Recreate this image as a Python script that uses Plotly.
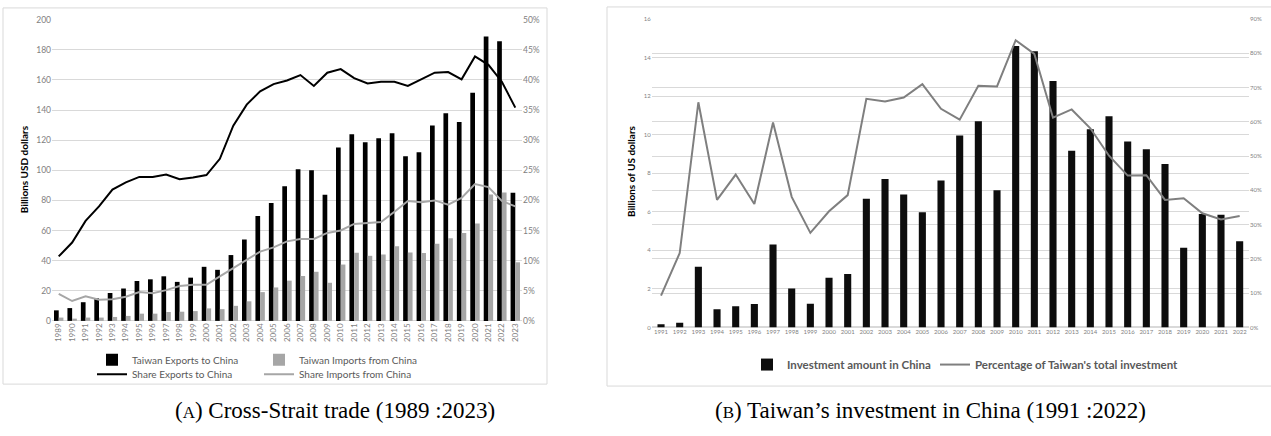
import plotly.graph_objects as go

W, H = 1271, 436

# ---------------- Data: (A) Cross-Strait trade ----------------
years_a = [str(y) for y in range(1989, 2024)]
exports = [7.0, 8.5, 12.4, 15.0, 18.5, 21.5, 26.5, 27.6, 29.6, 25.9, 28.7, 35.9, 33.9, 43.7, 54.1,
           69.6, 78.3, 89.4, 100.6, 100.0, 83.8, 115.1, 124.0, 118.6, 121.2, 124.6, 109.3, 111.9,
           129.8, 137.8, 132.0, 151.4, 188.8, 185.7, 85.0]
imports = [2.2, 1.5, 2.2, 2.2, 2.6, 3.3, 4.8, 4.8, 5.9, 6.1, 6.5, 8.3, 7.8, 10.0, 13.0, 19.1, 22.2,
           26.7, 29.8, 32.6, 25.3, 37.4, 45.2, 43.2, 44.1, 49.5, 45.4, 45.0, 51.2, 54.9, 58.4, 64.6,
           83.9, 85.2, 38.9]
share_exp = [10.7, 13.0, 16.6, 19.0, 21.8, 23.0, 23.9, 23.9, 24.3, 23.5, 23.8, 24.2, 26.9, 32.4, 35.9,
             38.1, 39.3, 39.9, 40.8, 39.0, 41.2, 41.8, 40.3, 39.4, 39.7, 39.7, 39.0, 40.1, 41.2, 41.3,
             40.1, 43.9, 42.5, 39.7, 35.4]
share_imp = [4.5, 3.3, 4.1, 3.5, 3.6, 4.0, 4.8, 4.6, 5.1, 5.8, 6.0, 6.0, 7.4, 8.8, 10.2, 11.5, 12.2,
             13.2, 13.6, 13.6, 14.6, 15.0, 16.1, 16.2, 16.4, 18.1, 19.9, 19.7, 20.0, 19.3, 20.4, 22.7,
             22.2, 19.9, 19.0]

# ---------------- Data: (B) Taiwan's investment in China ----------------
years_b = [str(y) for y in range(1991, 2023)]
invest = [0.17, 0.24, 3.15, 0.94, 1.10, 1.21, 4.30, 2.02, 1.23, 2.58, 2.77, 6.68, 7.70, 6.90, 5.97,
          7.62, 9.96, 10.69, 7.12, 14.60, 14.33, 12.78, 9.17, 10.28, 10.96, 9.64, 9.24, 8.48, 4.13,
          5.89, 5.85, 4.47]
invest_pct = [9.3, 21.7, 65.7, 37.2, 44.6, 36.0, 59.8, 38.1, 27.6, 33.9, 38.6, 66.7, 65.9, 67.1, 71.0,
              63.8, 60.6, 70.5, 70.3, 83.8, 79.8, 61.2, 63.6, 58.1, 50.1, 44.3, 44.4, 37.2, 37.7, 33.3,
              31.5, 32.5]

caption_a = "(<span style='font-size:17px'>A</span>) Cross-Strait trade (1989 :2023)"
caption_b = "(<span style='font-size:17px'>B</span>) Taiwan’s investment in China (1991 :2022)"


def fx(p):
    return p / W


def fy(p):
    return 1 - p / H


GRID = "#d9d9d9"
TICK = "#7f7f7f"
LEG = "#595959"
FONT = "Lato"

fig = go.Figure()
fig.add_trace(go.Bar(x=years_a, y=exports, name="Taiwan Exports to China", marker=dict(color="#000000", line=dict(width=0)),
                     xaxis="x", yaxis="y", legend="legend"))
fig.add_trace(go.Bar(x=years_a, y=imports, name="Taiwan Imports from China", marker=dict(color="#a6a6a6", line=dict(width=0)),
                     xaxis="x", yaxis="y", legend="legend"))
fig.add_trace(go.Scatter(x=years_a, y=share_exp, mode="lines", name="Share Exports to China",
                         line=dict(color="#000000", width=2), xaxis="x", yaxis="y2", legend="legend2"))
fig.add_trace(go.Scatter(x=years_a, y=share_imp, mode="lines", name="Share Imports from China",
                         line=dict(color="#a6a6a6", width=2), xaxis="x", yaxis="y2", legend="legend2"))
fig.add_trace(go.Bar(x=years_b, y=invest, name="<b>Investment amount in China</b>", width=0.38,
                     marker=dict(color="#0d0d0d", line=dict(width=0)), xaxis="x2", yaxis="y3", legend="legend3"))
fig.add_trace(go.Scatter(x=years_b, y=invest_pct, mode="lines", name="<b>Percentage of Taiwan's total investment</b>",
                         line=dict(color="#7f7f7f", width=2), xaxis="x2", yaxis="y4", legend="legend4"))

leg_common = dict(orientation="h", xanchor="left", yanchor="middle", bgcolor="rgba(0,0,0,0)",
                  itemwidth=30, traceorder="normal")

fig.update_layout(
    width=W, height=H, autosize=False,
    margin=dict(l=0, r=0, t=0, b=0),
    paper_bgcolor="white", plot_bgcolor="white",
    font=dict(family=FONT, color=TICK),
    barmode="group", bargap=0.3, bargroupgap=0.0,
    xaxis=dict(domain=[fx(52), fx(522)], anchor="y", type="category", tickangle=-90,
               tickfont=dict(size=8, color=TICK), showline=False, ticks="", showgrid=False),
    yaxis=dict(domain=[fy(323.3), fy(15)], anchor="x", range=[0, 200], dtick=20,
               gridcolor=GRID, gridwidth=1, zeroline=True, zerolinecolor=GRID, zerolinewidth=1,
               tickfont=dict(size=8.5, color=TICK), showline=False, ticks=""),
    yaxis2=dict(overlaying="y", side="right", anchor="x", range=[0, 50], dtick=5, ticksuffix="%",
                showgrid=False, zeroline=False, tickfont=dict(size=8.5, color=TICK), showline=False, ticks=""),
    xaxis2=dict(domain=[fx(651.7), fx(1249)], anchor="y3", type="category", tickangle=0,
                tickfont=dict(size=6, color=TICK), showline=False, ticks="", showgrid=False),
    yaxis3=dict(domain=[fy(330), fy(14.3)], anchor="x2", range=[0, 16], dtick=2,
                gridcolor=GRID, gridwidth=1, zeroline=True, zerolinecolor=GRID,
                tickfont=dict(size=6, color=TICK), showline=False, ticks=""),
    yaxis4=dict(overlaying="y3", side="right", anchor="x2", range=[0, 90], dtick=10, ticksuffix="%",
                showgrid=True, gridcolor=GRID, gridwidth=1, zeroline=False,
                tickfont=dict(size=6, color=TICK), showline=False, ticks=""),
    legend=dict(leg_common, x=fx(92), y=fy(363), entrywidth=122, entrywidthmode="pixels",
                font=dict(family=FONT, size=10, color=LEG)),
    legend2=dict(leg_common, x=fx(92), y=fy(378), entrywidth=122, entrywidthmode="pixels",
                 font=dict(family=FONT, size=10, color=LEG)),
    legend3=dict(leg_common, x=fx(747), y=fy(368),
                 font=dict(family=FONT, size=11.5, color=LEG)),
    legend4=dict(leg_common, x=fx(935), y=fy(368),
                 font=dict(family=FONT, size=11.5, color=LEG)),
    shapes=[
        dict(type="rect", xref="paper", yref="paper", x0=fx(3), x1=fx(547), y0=fy(388), y1=fy(3),
             line=dict(color=GRID, width=1), layer="below"),
        dict(type="rect", xref="paper", yref="paper", x0=fx(607), x1=fx(1275), y0=fy(390), y1=fy(2),
             line=dict(color=GRID, width=1), layer="below"),
    ],
    annotations=[
        dict(text="<b>Billions USD dollars</b>", xref="paper", yref="paper", x=fx(24), y=fy(168),
             xanchor="center", yanchor="middle",
             textangle=-90, showarrow=False, font=dict(family=FONT, size=10, color="#000000")),
        dict(text="<b>Billions of US dollars</b>", xref="paper", yref="paper", x=fx(631), y=fy(170),
             xanchor="center", yanchor="middle",
             textangle=-90, showarrow=False, font=dict(family=FONT, size=10, color="#000000")),
        dict(text=caption_a, xref="paper", yref="paper", x=fx(335), y=fy(415),
             xanchor="center", yanchor="middle",
             showarrow=False, font=dict(family="Liberation Serif", size=23, color="#000000")),
        dict(text=caption_b, xref="paper", yref="paper", x=fx(930), y=fy(415),
             xanchor="center", yanchor="middle",
             showarrow=False, font=dict(family="Liberation Serif", size=23, color="#000000")),
    ],
)

fig.write_html("out.html", config={"displayModeBar": False},
               post_script="document.body.style.margin='0';document.body.style.padding='0';")
